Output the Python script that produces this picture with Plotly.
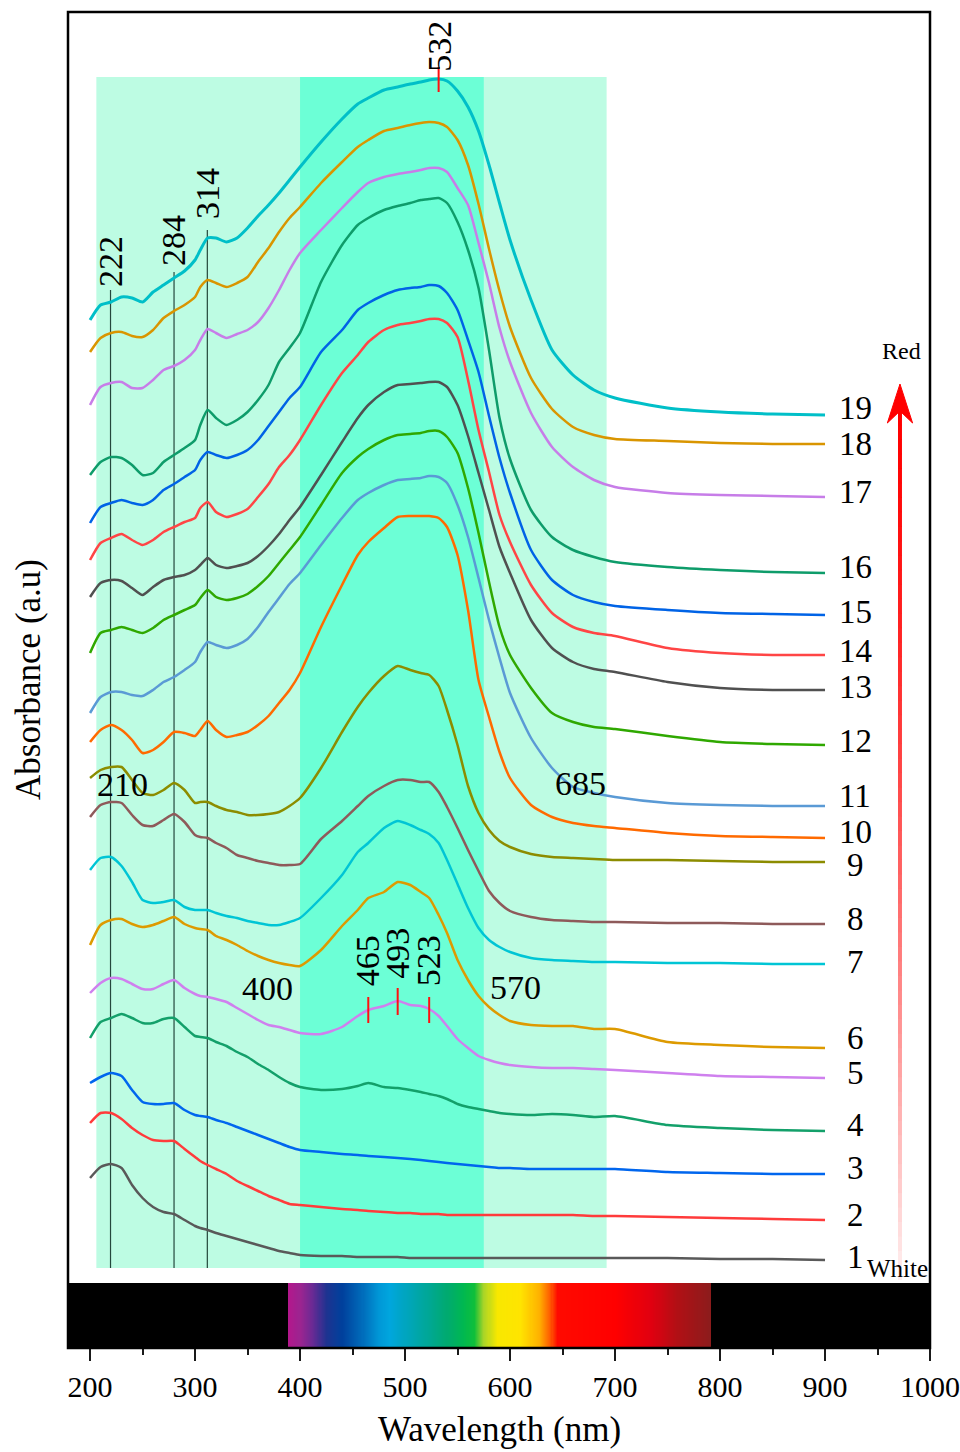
import numpy as np
import plotly.graph_objects as go

FONT = "Liberation Serif, Times New Roman, serif"

# ---------------- data (absorbance, a.u., stacked spectra) ----------------
wavelength = [200, 210, 220, 230, 240, 250, 260, 270, 280, 290, 300, 305, 312, 320, 330, 340,
              350, 360, 370, 380, 390, 400, 420, 440, 455, 465, 480, 493, 505, 515, 523, 532,
              540, 550, 560, 570, 580, 590, 600, 620, 640, 660, 680, 700, 750, 800, 850, 900]

s1 = [1.05, 1.16, 1.19, 1.15, 0.98, 0.85, 0.76, 0.71, 0.69, 0.63, 0.57, 0.55, 0.53, 0.50, 0.47, 0.44,
      0.41, 0.38, 0.35, 0.32, 0.30, 0.28, 0.27, 0.27, 0.26, 0.26, 0.26, 0.26, 0.25, 0.25, 0.25, 0.25,
      0.25, 0.25, 0.25, 0.25, 0.25, 0.25, 0.25, 0.25, 0.25, 0.25, 0.25, 0.25, 0.25, 0.24, 0.24, 0.23]
s2 = [1.60, 1.70, 1.70, 1.64, 1.55, 1.48, 1.43, 1.42, 1.42, 1.34, 1.26, 1.22, 1.18, 1.14, 1.09, 1.02,
      0.97, 0.92, 0.87, 0.83, 0.79, 0.78, 0.76, 0.74, 0.73, 0.72, 0.71, 0.70, 0.70, 0.69, 0.69, 0.69,
      0.68, 0.68, 0.68, 0.68, 0.68, 0.68, 0.68, 0.68, 0.68, 0.68, 0.67, 0.67, 0.66, 0.65, 0.64, 0.63]
s3 = [2.00, 2.06, 2.10, 2.07, 1.93, 1.81, 1.79, 1.79, 1.80, 1.73, 1.68, 1.67, 1.66, 1.63, 1.60, 1.56,
      1.52, 1.48, 1.44, 1.40, 1.36, 1.33, 1.31, 1.29, 1.28, 1.27, 1.26, 1.25, 1.24, 1.23, 1.22, 1.21,
      1.20, 1.19, 1.18, 1.17, 1.16, 1.15, 1.15, 1.14, 1.14, 1.14, 1.14, 1.14, 1.11, 1.10, 1.09, 1.09]
s4 = [2.45, 2.61, 2.65, 2.69, 2.65, 2.60, 2.60, 2.64, 2.65, 2.56, 2.47, 2.46, 2.45, 2.41, 2.37, 2.31,
      2.26, 2.19, 2.13, 2.06, 2.00, 1.96, 1.93, 1.94, 1.97, 2.00, 1.96, 1.95, 1.93, 1.91, 1.89, 1.87,
      1.84, 1.79, 1.76, 1.74, 1.72, 1.70, 1.69, 1.68, 1.69, 1.68, 1.66, 1.67, 1.58, 1.55, 1.53, 1.52]
s5 = [2.90, 3.00, 3.05, 3.04, 2.99, 2.94, 2.94, 2.99, 3.03, 2.95, 2.89, 2.87, 2.86, 2.84, 2.81, 2.75,
      2.69, 2.63, 2.58, 2.56, 2.53, 2.50, 2.49, 2.56, 2.67, 2.73, 2.77, 2.82, 2.78, 2.77, 2.74, 2.67,
      2.57, 2.44, 2.35, 2.27, 2.23, 2.20, 2.18, 2.16, 2.15, 2.15, 2.14, 2.13, 2.10, 2.07, 2.06, 2.05]
s6 = [3.38, 3.58, 3.63, 3.64, 3.59, 3.56, 3.58, 3.62, 3.66, 3.59, 3.55, 3.54, 3.53, 3.47, 3.43, 3.38,
      3.32, 3.27, 3.23, 3.20, 3.18, 3.17, 3.33, 3.57, 3.73, 3.85, 3.91, 4.01, 3.98, 3.91, 3.85, 3.68,
      3.50, 3.23, 3.03, 2.87, 2.76, 2.68, 2.62, 2.58, 2.57, 2.57, 2.54, 2.54, 2.41, 2.38, 2.36, 2.35]
s7 = [4.13, 4.25, 4.26, 4.17, 4.01, 3.83, 3.80, 3.81, 3.83, 3.76, 3.73, 3.73, 3.73, 3.70, 3.67, 3.65,
      3.62, 3.60, 3.58, 3.58, 3.61, 3.65, 3.85, 4.08, 4.31, 4.40, 4.55, 4.62, 4.58, 4.53, 4.49, 4.40,
      4.23, 3.99, 3.75, 3.55, 3.43, 3.36, 3.31, 3.25, 3.23, 3.22, 3.21, 3.21, 3.20, 3.20, 3.19, 3.19]
s8 = [4.66, 4.78, 4.81, 4.80, 4.68, 4.58, 4.57, 4.63, 4.69, 4.61, 4.48, 4.46, 4.45, 4.40, 4.35, 4.28,
      4.25, 4.22, 4.20, 4.18, 4.18, 4.19, 4.44, 4.62, 4.77, 4.87, 4.97, 5.03, 5.03, 5.01, 5.01, 4.91,
      4.76, 4.55, 4.33, 4.12, 3.92, 3.80, 3.72, 3.66, 3.63, 3.62, 3.61, 3.61, 3.60, 3.60, 3.59, 3.59]
s9 = [5.05, 5.13, 5.16, 5.16, 5.03, 4.90, 4.88, 4.93, 5.00, 4.93, 4.80, 4.81, 4.81, 4.77, 4.73, 4.71,
      4.68, 4.68, 4.69, 4.71, 4.77, 4.85, 5.15, 5.51, 5.76, 5.90, 6.07, 6.17, 6.13, 6.10, 6.08, 5.97,
      5.73, 5.38, 4.97, 4.70, 4.53, 4.42, 4.36, 4.29, 4.26, 4.25, 4.24, 4.23, 4.23, 4.22, 4.21, 4.21]
s10 = [5.41, 5.53, 5.58, 5.53, 5.43, 5.30, 5.33, 5.41, 5.51, 5.50, 5.47, 5.53, 5.62, 5.53, 5.46, 5.48,
       5.51, 5.58, 5.67, 5.80, 5.93, 6.10, 6.56, 6.98, 7.28, 7.41, 7.55, 7.66, 7.67, 7.67, 7.67, 7.65,
       7.56, 7.28, 6.73, 6.03, 5.66, 5.31, 5.05, 4.78, 4.66, 4.60, 4.57, 4.55, 4.50, 4.47, 4.46, 4.45]
s11 = [5.70, 5.86, 5.91, 5.91, 5.88, 5.87, 5.93, 6.01, 6.06, 6.13, 6.21, 6.31, 6.41, 6.38, 6.35, 6.38,
       6.44, 6.56, 6.71, 6.85, 6.99, 7.10, 7.38, 7.65, 7.83, 7.90, 7.98, 8.03, 8.04, 8.05, 8.07, 8.06,
       8.00, 7.78, 7.46, 7.05, 6.63, 6.25, 5.90, 5.45, 5.15, 4.96, 4.90, 4.86, 4.80, 4.78, 4.77, 4.77]
s12 = [6.30, 6.50, 6.53, 6.56, 6.53, 6.50, 6.55, 6.63, 6.68, 6.73, 6.78, 6.85, 6.93, 6.86, 6.83, 6.85,
       6.89, 6.97, 7.07, 7.20, 7.33, 7.46, 7.78, 8.10, 8.26, 8.34, 8.43, 8.48, 8.49, 8.50, 8.52, 8.52,
       8.46, 8.30, 7.95, 7.50, 7.01, 6.56, 6.28, 5.95, 5.70, 5.61, 5.56, 5.54, 5.47, 5.41, 5.39, 5.38]
s13 = [6.86, 7.00, 7.03, 7.02, 6.95, 6.88, 6.96, 7.03, 7.06, 7.08, 7.13, 7.18, 7.25, 7.18, 7.15, 7.17,
       7.20, 7.27, 7.37, 7.49, 7.63, 7.76, 8.08, 8.41, 8.65, 8.78, 8.91, 8.98, 8.99, 9.00, 9.01, 9.01,
       8.96, 8.78, 8.47, 8.10, 7.73, 7.36, 7.10, 6.63, 6.35, 6.21, 6.14, 6.11, 6.01, 5.95, 5.93, 5.93]
s14 = [7.23, 7.40, 7.45, 7.49, 7.43, 7.38, 7.43, 7.51, 7.56, 7.61, 7.65, 7.75, 7.81, 7.71, 7.66, 7.69,
       7.74, 7.86, 7.99, 8.16, 8.28, 8.43, 8.78, 9.10, 9.28, 9.41, 9.53, 9.58, 9.60, 9.62, 9.64, 9.64,
       9.60, 9.46, 9.03, 8.53, 8.11, 7.68, 7.41, 6.98, 6.70, 6.56, 6.50, 6.47, 6.35, 6.30, 6.28, 6.28]
s15 = [7.60, 7.76, 7.80, 7.83, 7.80, 7.78, 7.83, 7.93, 7.99, 8.06, 8.13, 8.23, 8.31, 8.28, 8.25, 8.28,
       8.33, 8.43, 8.57, 8.71, 8.85, 8.96, 9.31, 9.53, 9.73, 9.80, 9.88, 9.93, 9.95, 9.96, 9.98, 9.97,
       9.90, 9.73, 9.43, 9.11, 8.67, 8.25, 7.90, 7.33, 7.03, 6.88, 6.81, 6.77, 6.73, 6.70, 6.69, 6.68]
s16 = [8.08, 8.21, 8.26, 8.25, 8.18, 8.08, 8.10, 8.21, 8.28, 8.35, 8.43, 8.58, 8.73, 8.65, 8.58, 8.63,
       8.71, 8.83, 8.98, 9.21, 9.35, 9.50, 10.01, 10.38, 10.58, 10.65, 10.73, 10.77, 10.80, 10.83, 10.84, 10.85,
       10.80, 10.61, 10.33, 9.95, 9.33, 8.65, 8.24, 7.73, 7.46, 7.33, 7.26, 7.21, 7.16, 7.13, 7.11, 7.10]
s17 = [8.78, 8.96, 9.00, 9.01, 8.95, 8.95, 9.03, 9.13, 9.17, 9.23, 9.33, 9.43, 9.54, 9.50, 9.45, 9.49,
       9.53, 9.61, 9.75, 9.93, 10.13, 10.30, 10.53, 10.75, 10.91, 11.00, 11.06, 11.09, 11.11, 11.13, 11.15, 11.15,
       11.11, 10.95, 10.78, 10.40, 10.00, 9.55, 9.21, 8.70, 8.36, 8.16, 8.03, 7.96, 7.90, 7.88, 7.87, 7.86]
s18 = [9.31, 9.45, 9.50, 9.51, 9.47, 9.46, 9.53, 9.65, 9.72, 9.78, 9.86, 9.96, 10.03, 10.00, 9.96, 10.00,
       10.06, 10.21, 10.35, 10.51, 10.65, 10.76, 11.00, 11.21, 11.36, 11.43, 11.52, 11.55, 11.58, 11.60, 11.61, 11.60,
       11.56, 11.43, 11.18, 10.79, 10.34, 9.92, 9.56, 9.05, 8.74, 8.56, 8.48, 8.44, 8.42, 8.40, 8.39, 8.39]
s19 = [9.63, 9.78, 9.81, 9.86, 9.85, 9.81, 9.91, 9.98, 10.05, 10.12, 10.23, 10.33, 10.45, 10.45, 10.41, 10.45,
       10.55, 10.67, 10.78, 10.90, 11.03, 11.16, 11.41, 11.64, 11.79, 11.85, 11.93, 11.96, 11.99, 12.01, 12.03, 12.04,
       12.02, 11.92, 11.76, 11.52, 11.18, 10.80, 10.43, 9.83, 9.33, 9.08, 8.93, 8.85, 8.75, 8.71, 8.69, 8.68]

series = [s1, s2, s3, s4, s5, s6, s7, s8, s9, s10, s11, s12, s13, s14, s15, s16, s17, s18, s19]
sample_names = [str(i) for i in range(1, 20)]
line_colors = ["#595959", "#FF3B3B", "#0066EE", "#13A06A", "#CF80EE", "#DD9A00", "#00C5D5",
               "#8E5A5A", "#8C8C00", "#FF6A00", "#5A9AD5", "#2FA800", "#505050", "#FF4545",
               "#0063E6", "#0E9C6A", "#C77DE8", "#D99500", "#00BFC8"]
label_y = [0.26, 0.68, 1.15, 1.58, 2.10, 2.45, 3.21, 3.64, 4.18, 4.51, 4.87, 5.42, 5.96,
           6.32, 6.71, 7.16, 7.91, 8.39, 8.75]

# characteristic bands
uv_lines_x = [219.5, 280, 311.7]
uv_lines_top = [9.93, 10.11, 10.53]
uv_text = ["222", "284", "314"]
uv_text_x = [219.0, 279.0, 311.4]
uv_text_y = [10.21, 10.43, 10.89]
vis_marks_x = [465, 493, 523]
vis_marks_lo = [2.60, 2.68, 2.60]
vis_marks_hi = [2.86, 2.95, 2.86]
vis_text_y = [3.22, 3.30, 3.22]
top_peak = 532
region_light = [206, 692]
region_dark = [400, 575]
region_y = [0.15, 12.06]
edge_text = ["210", "400", "570", "685"]
edge_text_x = [230.5, 368.6, 604.8, 666.7]
edge_text_y = [4.99, 2.95, 2.96, 5.00]

# visible spectrum strip
spectrum_nm = [179, 388.5, 389, 400, 412, 425, 440, 458, 475, 485, 500, 520, 540, 556, 566,
               575, 588, 610, 628, 638, 645, 700, 735, 760, 791, 791.5, 1000]
spectrum_col = ["#000000", "#000000", "#B3178C", "#9C2490", "#6A2A94", "#1E3390", "#00409C",
                "#0068B8", "#0096D6", "#00A6DE", "#00A5C0", "#00A79A", "#00AA70", "#00B850",
                "#10BF3A", "#A8D428", "#F8E800", "#FFE400", "#FFB000", "#FF6000", "#FF0A00",
                "#FF0000", "#E00010", "#B01015", "#8C1C1C", "#000000", "#000000"]

for s in series:
    assert len(s) == len(wavelength)

XMIN, XMAX = 179, 1000
fig = go.Figure()

# spectrum strip as heatmap
spec_x = np.arange(XMIN, XMAX + 1)
cscale = [[(n - XMIN) / (XMAX - XMIN), c] for n, c in zip(spectrum_nm, spectrum_col)]
fig.add_trace(go.Heatmap(x=spec_x, y=[0.5], z=[spec_x], colorscale=cscale, zmin=XMIN, zmax=XMAX,
                         showscale=False, hoverinfo="skip", xaxis="x", yaxis="y2"))

for s, c, n in zip(series, line_colors, sample_names):
    fig.add_trace(go.Scatter(x=wavelength, y=s, mode="lines", name=n,
                             line=dict(color=c, width=3 if n == "19" else 2.5, shape="spline", smoothing=0.6),
                             hoverinfo="skip", showlegend=False, xaxis="x", yaxis="y"))

shapes = []
shapes.append(dict(type="rect", xref="x", yref="y", x0=region_light[0], x1=region_light[1],
                   y0=region_y[0], y1=region_y[1], fillcolor="#BDFCE3", line=dict(width=0), layer="below"))
shapes.append(dict(type="rect", xref="x", yref="y", x0=region_dark[0], x1=region_dark[1],
                   y0=region_y[0], y1=region_y[1], fillcolor="#6CFFD6", line=dict(width=0), layer="below"))
for x, top in zip(uv_lines_x, uv_lines_top):
    shapes.append(dict(type="line", xref="x", yref="y", x0=x, x1=x, y0=region_y[0], y1=top,
                       line=dict(color="#24473C", width=1.2), layer="below"))
for x, lo, hi in zip(vis_marks_x, vis_marks_lo, vis_marks_hi):
    shapes.append(dict(type="line", xref="x", yref="y", x0=x, x1=x, y0=lo, y1=hi,
                       line=dict(color="#FF1010", width=2)))
shapes.append(dict(type="line", xref="x", yref="y", x0=top_peak, x1=top_peak, y0=11.91, y1=12.16,
                   line=dict(color="#FF1010", width=2)))

# red gradient arrow (direction of increasing redness)
ax = 971.4
y_bot, y_top = 0.03, 8.72
nseg = 60
for i in range(nseg):
    t0 = i / nseg
    t1 = (i + 1) / nseg
    t = (t0 + t1) / 2
    g = int(round(240 * (1 - t) ** 1.4))
    shapes.append(dict(type="line", xref="x", yref="y", x0=ax, x1=ax,
                       y0=y_bot + (y_top - y_bot) * t0, y1=y_bot + (y_top - y_bot) * t1 + 0.01,
                       line=dict(color=f"rgb(255,{g},{g})", width=4)))
shapes.append(dict(type="path", xref="x", yref="y",
                   path=f"M {ax},8.99 L {ax - 12},8.60 L {ax},8.72 L {ax + 12},8.60 Z",
                   fillcolor="#FF0000", line=dict(color="#FF0000", width=1)))
# frame
shapes.append(dict(type="rect", xref="paper", yref="paper", x0=0, x1=1, y0=0, y1=1,
                   line=dict(color="black", width=2.5)))

ann = []
tf = dict(family=FONT, size=34, color="black")
title_font = dict(family=FONT, size=35, color="black")
for t, x, y in zip(uv_text, uv_text_x, uv_text_y):
    ann.append(dict(x=x, y=y, xref="x", yref="y", text=t, showarrow=False, textangle=-90,
                    xanchor="center", yanchor="middle", font=tf))
ann.append(dict(x=top_peak, y=12.37, xref="x", yref="y", text=str(top_peak), showarrow=False,
                textangle=-90, xanchor="center", yanchor="middle", font=tf))
for x, y in zip(vis_marks_x, vis_text_y):
    ann.append(dict(x=x - 1, y=y, xref="x", yref="y", text=str(x), showarrow=False, textangle=-90,
                    xanchor="center", yanchor="middle", font=tf))
for t, x, y in zip(edge_text, edge_text_x, edge_text_y):
    ann.append(dict(x=x, y=y, xref="x", yref="y", text=t, showarrow=False,
                    xanchor="center", yanchor="middle", font=tf))
for n, y in zip(sample_names, label_y):
    ann.append(dict(x=929, y=y, xref="x", yref="y", text=n, showarrow=False,
                    xanchor="center", yanchor="middle", font=dict(family=FONT, size=33, color="black")))
ann.append(dict(x=938, y=0.15, xref="x", yref="y", text="White", showarrow=False,
                xanchor="left", yanchor="middle", font=dict(family=FONT, size=25, color="black")))
ann.append(dict(x=973.3, y=9.32, xref="x", yref="y", text="Red", showarrow=False,
                xanchor="center", yanchor="middle", font=dict(family=FONT, size=24, color="black")))
ann.append(dict(x=-0.0464, y=0.5, xref="paper", yref="paper", text="Absorbance (a.u)", showarrow=False,
                textangle=-90, xanchor="center", yanchor="middle", font=title_font))
ann.append(dict(x=0.501, y=-0.061, xref="paper", yref="paper", text="Wavelength (nm)", showarrow=False,
                xanchor="center", yanchor="middle", font=title_font))

main_bottom = 65 / 1336
fig.update_layout(
    width=960, height=1452, autosize=False,
    margin=dict(l=68, r=30, t=12, b=104, autoexpand=False),
    paper_bgcolor="white", plot_bgcolor="white",
    shapes=shapes, annotations=ann, showlegend=False,
    xaxis=dict(range=[XMIN, XMAX], anchor="y2", showgrid=False, zeroline=False, showline=False,
               automargin=False,
               tick0=200, dtick=100, ticks="outside", ticklen=12, tickwidth=2, tickcolor="#1a1a1a",
               ticklabelstandoff=0,
               minor=dict(ticks="outside", tick0=200, dtick=50, ticklen=6, tickwidth=2, tickcolor="#1a1a1a"),
               tickfont=dict(family=FONT, size=30, color="black")),
    yaxis=dict(domain=[main_bottom, 1], range=[0, 12.71], showgrid=False, zeroline=False,
               showticklabels=False, ticks="", anchor="x", automargin=False),
    yaxis2=dict(domain=[0, main_bottom], range=[0, 1], showgrid=False, zeroline=False,
                showticklabels=False, ticks="", anchor="x", automargin=False),
)

fig.write_html("out.html", config={"displayModeBar": False},
               post_script="document.body.style.margin='0';")
